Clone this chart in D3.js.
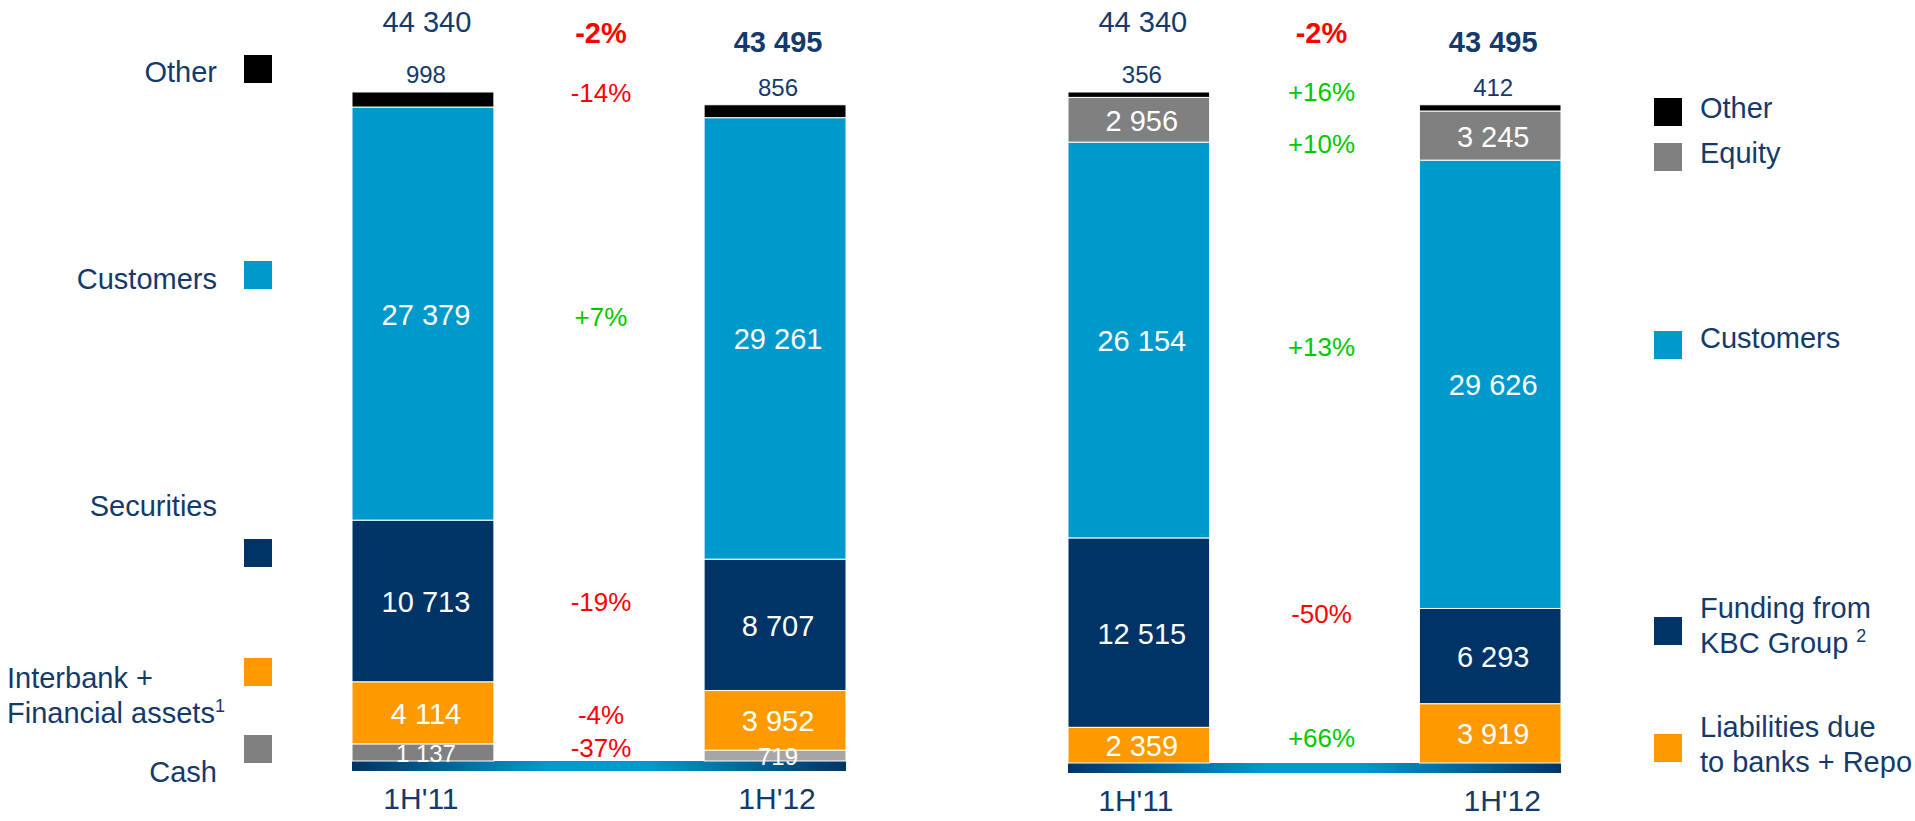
<!DOCTYPE html>
<html>
<head>
<meta charset="utf-8">
<script src="https://cdn.jsdelivr.net/npm/d3@7"></script>
<style>
  body { margin: 0; background: #fff; }
  svg text { font-family: "Liberation Sans", Arial, sans-serif; }
</style>
</head>
<body>
<svg id="chart" width="1915" height="821"></svg>
<script>
// ---- data ----
const periods = ["1H'11", "1H'12"];

// assets, bottom to top
const assetSeries = ["Cash", "Interbank", "Securities", "Customers", "Other"];
const assetCash = [1137, 719];
const assetInterbank = [4114, 3952];
const assetSecurities = [10713, 8707];
const assetCustomers = [27379, 29261];
const assetOther = [998, 856];
const assetTotals = [44340, 43495];
const assetChange = ["-37%", "-4%", "-19%", "+7%", "-14%"];

// liabilities, bottom to top
const liabSeries = ["Repo", "Funding", "Customers", "Equity", "Other"];
const liabRepo = [2359, 3919];
const liabFunding = [12515, 6293];
const liabCustomers = [26154, 29626];
const liabEquity = [2956, 3245];
const liabOther = [356, 412];
const liabTotals = [44340, 43495];
const liabChange = ["+66%", "-50%", "+13%", "+10%", "+16%"];

const totalChange = "-2%";

// ---- style ----
const navyText = "#143A6B";
const NAVY = "#003366", BLUE = "#0099CC", ORANGE = "#FF9900", GREY = "#808080", BLACK = "#000000";
const fmt = d3.formatLocale({ decimal: ".", thousands: " ", grouping: [3], currency: ["", ""] }).format(",");

const svg = d3.select("#chart");
const defs = svg.append("defs");

function drawPanel(cfg) {
  // table for d3.stack built from the arrays
  const rows = periods.map((p, i) => {
    const r = { period: p };
    cfg.series.forEach((s, j) => { r[s] = cfg.values[j][i]; });
    return r;
  });
  const layers = d3.stack().keys(cfg.series)(rows);

  const x = d3.scaleBand().domain(periods).range(cfg.xRange).paddingInner(0.597).paddingOuter(0);
  const y = d3.scaleLinear().domain([0, d3.max(cfg.totals)]).range([cfg.base, 92]);
  const bw = x.bandwidth();

  // gradient base band
  const gid = "band-" + cfg.id;
  const grad = defs.append("linearGradient").attr("id", gid);
  [[0, NAVY], [0.4, BLUE], [0.6, BLUE], [1, NAVY]].forEach(s =>
    grad.append("stop").attr("offset", s[0]).attr("stop-color", s[1]));
  svg.append("rect")
    .attr("x", x(periods[0]))
    .attr("y", y(0))
    .attr("width", x(periods[1]) + bw - x(periods[0]))
    .attr("height", 10)
    .attr("fill", `url(#${gid})`);

  // bars
  const g = svg.append("g");
  layers.forEach(layer => {
    g.selectAll(null)
      .data(layer)
      .enter().append("rect")
        .attr("x", d => x(d.data.period))
        .attr("y", d => y(d[1]))
        .attr("width", bw)
        .attr("height", d => y(d[0]) - y(d[1]))
        .attr("fill", (d, i) => cfg.color(layer.key, i))
        .attr("stroke", "#fff")
        .attr("stroke-width", 1);
  });

  // segment labels
  layers.forEach((layer, j) => {
    const top = j === layers.length - 1;
    g.selectAll(null)
      .data(layer)
      .enter().append("text")
        .attr("x", d => x(d.data.period) + bw / 2 + 3)
        .attr("y", d => top ? y(d[1]) - 9 : (y(d[0]) + y(d[1])) / 2 + 1)
        .attr("dominant-baseline", top ? "auto" : "central")
        .attr("text-anchor", "middle")
        .attr("font-size", top || layer.key === "Cash" ? 24 : 29)
        .attr("fill", top ? navyText : "#fff")
        .text(d => fmt(d[1] - d[0]));
  });

  // change labels between the bars
  const midX = (x(periods[0]) + bw + x(periods[1])) / 2;
  layers.forEach((layer, j) => {
    const d = layer[0];
    const txt = cfg.change[j];
    svg.append("text")
      .attr("x", midX + cfg.pctDx)
      .attr("y", (y(d[0]) + y(d[1])) / 2 + cfg.pctNudge[j])
      .attr("dominant-baseline", "central")
      .attr("text-anchor", "middle")
      .attr("font-size", 26)
      .attr("fill", txt[0] === "-" ? "#FF0000" : "#00C800")
      .text(txt);
  });

  // totals
  svg.append("text")
    .attr("x", x(periods[0]) + bw / 2 + 4).attr("y", 32)
    .attr("text-anchor", "middle").attr("font-size", 29).attr("fill", navyText)
    .text(fmt(cfg.totals[0]));
  svg.append("text")
    .attr("x", x(periods[1]) + bw / 2 + 3).attr("y", 52)
    .attr("text-anchor", "middle").attr("font-size", 29).attr("font-weight", "bold").attr("fill", navyText)
    .text(fmt(cfg.totals[1]));
  svg.append("text")
    .attr("x", midX + cfg.pctDx).attr("y", 43)
    .attr("text-anchor", "middle").attr("font-size", 29).attr("font-weight", "bold").attr("fill", "#FF0000")
    .text(totalChange);

  // category axis
  const axis = svg.append("g")
    .attr("transform", `translate(0,${cfg.base + 48})`)
    .call(d3.axisBottom(x).tickSize(0).tickPadding(0));
  axis.select(".domain").remove();
  axis.selectAll("text")
    .attr("font-size", 30)
    .attr("fill", navyText)
    .attr("dy", 0)
    .attr("dx", (d, i) => cfg.catDx[i]);

  return { x, y };
}

drawPanel({
  id: "assets",
  series: assetSeries,
  values: [assetCash, assetInterbank, assetSecurities, assetCustomers, assetOther],
  totals: assetTotals,
  change: assetChange,
  xRange: [352, 846],
  base: 761,
  pctDx: 2,
  pctNudge: [-4, 2, 1, 3, -7],
  catDx: [-2, 2],
  color: (k, i) => ({ Cash: i === 1 ? "#A6A6A6" : GREY, Interbank: ORANGE, Securities: NAVY, Customers: BLUE, Other: BLACK })[k]
});

drawPanel({
  id: "liab",
  series: liabSeries,
  values: [liabRepo, liabFunding, liabCustomers, liabEquity, liabOther],
  totals: liabTotals,
  change: liabChange,
  xRange: [1068, 1561],
  base: 763,
  pctDx: 7,
  pctNudge: [-7, -19, 7, 24, -3],
  catDx: [-3, 12],
  color: k => ({ Repo: ORANGE, Funding: NAVY, Customers: BLUE, Equity: GREY, Other: BLACK })[k]
});

// ---- legends ----
function legend(items, sqX, textX, anchor) {
  items.forEach(it => {
    svg.append("rect")
      .attr("x", sqX).attr("y", it.sq).attr("width", 28).attr("height", 28)
      .attr("fill", it.color);
    it.lines.forEach(l => {
      const t = svg.append("text")
        .attr("x", l.x !== undefined ? l.x : textX)
        .attr("y", l.y)
        .attr("text-anchor", l.anchor || anchor)
        .attr("font-size", 29)
        .attr("fill", navyText)
        .text(l.t);
      if (l.sup) {
        t.append("tspan").attr("dy", -11).attr("font-size", 18).text(l.sup);
      }
    });
  });
}

legend([
  { color: BLACK, sq: 55, lines: [{ t: "Other", y: 82 }] },
  { color: BLUE, sq: 261, lines: [{ t: "Customers", y: 289 }] },
  { color: NAVY, sq: 539, lines: [{ t: "Securities", y: 516 }] },
  { color: ORANGE, sq: 658, lines: [
      { t: "Interbank +", y: 688, x: 7, anchor: "start" },
      { t: "Financial assets", sup: "1", y: 723, x: 7, anchor: "start" }] },
  { color: GREY, sq: 735, lines: [{ t: "Cash", y: 782 }] }
], 244, 217, "end");

legend([
  { color: BLACK, sq: 98, lines: [{ t: "Other", y: 118 }] },
  { color: GREY, sq: 143, lines: [{ t: "Equity", y: 163 }] },
  { color: BLUE, sq: 331, lines: [{ t: "Customers", y: 348 }] },
  { color: NAVY, sq: 617, lines: [
      { t: "Funding from", y: 618 },
      { t: "KBC Group ", sup: "2", y: 653 }] },
  { color: ORANGE, sq: 734, lines: [
      { t: "Liabilities due", y: 737 },
      { t: "to banks + Repo", y: 772 }] }
], 1654, 1700, "start");
</script>
</body>
</html>
